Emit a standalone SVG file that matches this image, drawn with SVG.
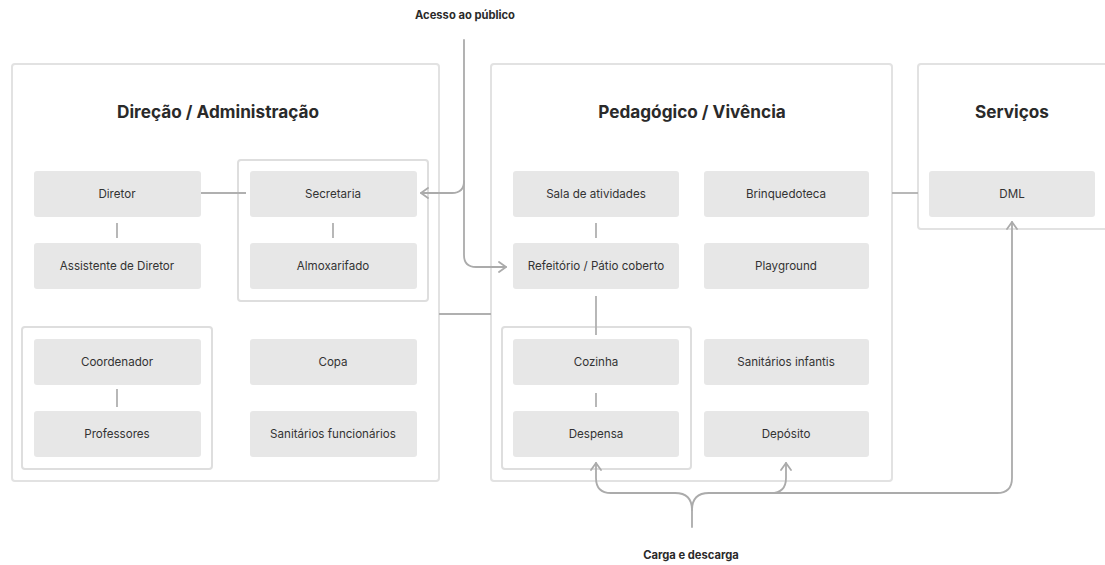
<svg xmlns="http://www.w3.org/2000/svg" width="1105" height="565" viewBox="0 0 1105 565">
<style>
.bg{fill:#ffffff}
.zone{fill:#ffffff;stroke:#e2e2e2;stroke-width:2}
.grp{fill:none;stroke:#dedede;stroke-width:2}
.box{fill:#e7e7e7}
.lbl{font-family:Inter,"Liberation Sans",sans-serif;font-size:11.6px;fill:#333;text-anchor:middle;dominant-baseline:central}
.ttl{font-family:Inter,"Liberation Sans",sans-serif;font-size:17.2px;font-weight:700;fill:#2a2a2a;text-anchor:middle;dominant-baseline:central}
.cap{font-family:Inter,"Liberation Sans",sans-serif;font-size:11.2px;font-weight:700;fill:#2a2a2a;text-anchor:middle;dominant-baseline:central}
.ln{fill:none;stroke:#b0b0b0;stroke-width:1.8}
.ar{fill:none;stroke:#ababab;stroke-width:1.8;stroke-linecap:round;stroke-linejoin:round}
</style>
<defs>
<marker id="chev" viewBox="0 0 12 12" refX="10" refY="6" markerWidth="12" markerHeight="12" markerUnits="userSpaceOnUse" orient="auto">
<path d="M3,1 L10,6 L3,11" fill="none" stroke="#ababab" stroke-width="1.8" stroke-linecap="round" stroke-linejoin="round"/>
</marker>
</defs>
<rect class="bg" x="0" y="0" width="1105" height="565"/>

<g id="zone-direcao">
<rect class="zone" x="12" y="64" width="427" height="417" rx="3"/>
<text class="ttl" x="218" y="111">Direção / Administração</text>
</g>
<g id="zone-pedagogico">
<rect class="zone" x="491" y="64" width="401" height="417" rx="3"/>
<text class="ttl" x="692" y="111">Pedagógico / Vivência</text>
</g>
<g id="zone-servicos">
<rect class="zone" x="918" y="64" width="200" height="165" rx="3"/>
<text class="ttl" x="1012" y="111">Serviços</text>
</g>

<g id="grp-secretaria"><rect class="grp" x="238" y="160" width="190" height="141" rx="3"/></g>
<g id="grp-coordenador"><rect class="grp" x="22" y="327" width="190" height="142" rx="3"/></g>
<g id="grp-cozinha"><rect class="grp" x="502" y="327" width="189" height="142" rx="3"/></g>

<g id="connectors">
<line class="ln" x1="117" y1="223" x2="117" y2="238"/>
<line class="ln" x1="201" y1="193" x2="246" y2="193"/>
<line class="ln" x1="333" y1="223" x2="333" y2="238"/>
<line class="ln" x1="117" y1="389" x2="117" y2="407"/>
<line class="ln" x1="439" y1="314" x2="491" y2="314"/>
<line class="ln" x1="596" y1="223" x2="596" y2="238"/>
<line class="ln" x1="596" y1="296" x2="596" y2="335"/>
<line class="ln" x1="596" y1="393" x2="596" y2="407"/>
<line class="ln" x1="892" y1="193" x2="918" y2="193"/>
<path class="ar" d="M464,40 L464,181 Q464,193 452,193 L421,193" marker-end="url(#chev)"/>
<path class="ar" d="M464,181 L464,255 Q464,267 476,267 L506,267" marker-end="url(#chev)"/>
<path class="ar" d="M692,527 L692,510 Q692,493 675,493 L611,493 Q596,493 596,478 L596,463" marker-end="url(#chev)"/>
<path class="ar" d="M692,510 Q692,493 709,493 L771,493 Q786,493 786,478 L786,463" marker-end="url(#chev)"/>
<path class="ar" d="M771,493 L997,493 Q1012,493 1012,478 L1012,222" marker-end="url(#chev)"/>
</g>

<g id="n-diretor"><rect class="box" x="34" y="171" width="167" height="46" rx="3"/><text class="lbl" x="117" y="194">Diretor</text></g>
<g id="n-assistente"><rect class="box" x="34" y="243" width="167" height="46" rx="3"/><text class="lbl" x="117" y="266">Assistente de Diretor</text></g>
<g id="n-secretaria"><rect class="box" x="250" y="171" width="167" height="46" rx="3"/><text class="lbl" x="333" y="194">Secretaria</text></g>
<g id="n-almoxarifado"><rect class="box" x="250" y="243" width="167" height="46" rx="3"/><text class="lbl" x="333" y="266">Almoxarifado</text></g>
<g id="n-coordenador"><rect class="box" x="34" y="339" width="167" height="46" rx="3"/><text class="lbl" x="117" y="362">Coordenador</text></g>
<g id="n-professores"><rect class="box" x="34" y="411" width="167" height="46" rx="3"/><text class="lbl" x="117" y="434">Professores</text></g>
<g id="n-copa"><rect class="box" x="250" y="339" width="167" height="46" rx="3"/><text class="lbl" x="333" y="362">Copa</text></g>
<g id="n-sanit-func"><rect class="box" x="250" y="411" width="167" height="46" rx="3"/><text class="lbl" x="333" y="434">Sanitários funcionários</text></g>

<g id="n-sala"><rect class="box" x="513" y="171" width="166" height="46" rx="3"/><text class="lbl" x="596" y="194">Sala de atividades</text></g>
<g id="n-brinquedoteca"><rect class="box" x="704" y="171" width="165" height="46" rx="3"/><text class="lbl" x="786" y="194">Brinquedoteca</text></g>
<g id="n-refeitorio"><rect class="box" x="513" y="243" width="166" height="46" rx="3"/><text class="lbl" x="596" y="266">Refeitório / Pátio coberto</text></g>
<g id="n-playground"><rect class="box" x="704" y="243" width="165" height="46" rx="3"/><text class="lbl" x="786" y="266">Playground</text></g>
<g id="n-cozinha"><rect class="box" x="513" y="339" width="166" height="46" rx="3"/><text class="lbl" x="596" y="362">Cozinha</text></g>
<g id="n-despensa"><rect class="box" x="513" y="411" width="166" height="46" rx="3"/><text class="lbl" x="596" y="434">Despensa</text></g>
<g id="n-sanit-inf"><rect class="box" x="704" y="339" width="165" height="46" rx="3"/><text class="lbl" x="786" y="362">Sanitários infantis</text></g>
<g id="n-deposito"><rect class="box" x="704" y="411" width="165" height="46" rx="3"/><text class="lbl" x="786" y="434">Depósito</text></g>
<g id="n-dml"><rect class="box" x="929" y="171" width="166" height="46" rx="3"/><text class="lbl" x="1012" y="194">DML</text></g>

<g id="lbl-acesso"><text class="cap" x="465" y="15">Acesso ao público</text></g>
<g id="lbl-carga"><text class="cap" x="691" y="555">Carga e descarga</text></g>
</svg>
